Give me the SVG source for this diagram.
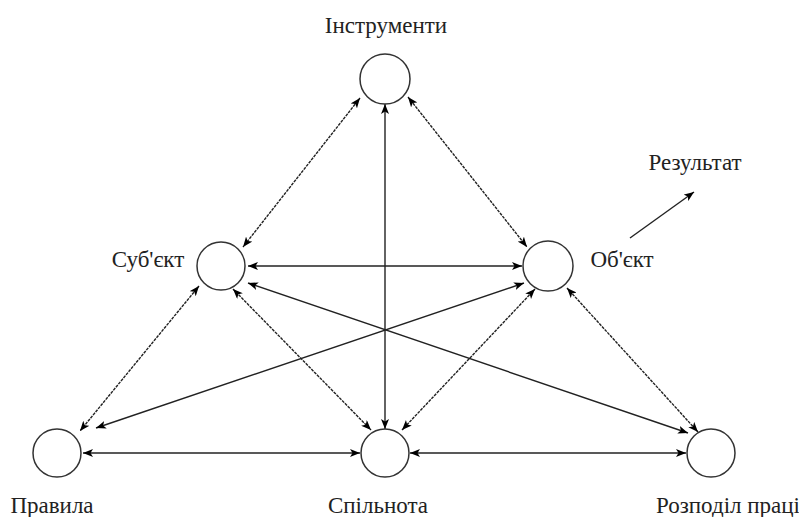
<svg xmlns="http://www.w3.org/2000/svg" width="799" height="517" viewBox="0 0 799 517">
<defs>
<marker id="ah" viewBox="0 0 10 8" refX="10" refY="4" markerWidth="10" markerHeight="8" markerUnits="userSpaceOnUse" orient="auto-start-reverse">
<path d="M0,0 L10,4 L0,8 L2.5,4 Z" fill="#000"/>
</marker>
</defs>
<style>
.n{fill:#fff;stroke:#333;stroke-width:1.5}
.t{font-family:'Liberation Serif','Times New Roman','DejaVu Serif',serif;font-size:23px;fill:#222}
.c line{stroke:#222;stroke-width:1.4;marker-start:url(#ah);marker-end:url(#ah)}
.d{stroke-dasharray:3 1}
</style>
<rect width="799" height="517" fill="#fff"/>
<g id="connectors" class="c">
<line x1="360" y1="98" x2="243" y2="247" class="d"/>
<line x1="408" y1="97" x2="527" y2="247" class="d"/>
<line x1="385" y1="104" x2="385" y2="429"/>
<line x1="248" y1="266" x2="522" y2="266"/>
<line x1="199" y1="286" x2="80" y2="431" class="d"/>
<line x1="233" y1="289" x2="371" y2="430" class="d"/>
<line x1="248" y1="283" x2="688" y2="433"/>
<line x1="524" y1="283" x2="96" y2="428"/>
<line x1="535" y1="289" x2="402" y2="430" class="d"/>
<line x1="567" y1="288" x2="698" y2="432" class="d"/>
<line x1="83" y1="453" x2="360" y2="453"/>
<line x1="410" y1="453" x2="686" y2="453"/>
<line x1="630" y1="238" x2="694" y2="192" style="marker-start:none"/>
</g>
<g id="instrumenty"><circle class="n" cx="385" cy="79" r="25"/><text class="t" x="386" y="33" text-anchor="middle">Інструменти</text></g>
<g id="subiekt"><circle class="n" cx="221" cy="266" r="24"/><text class="t" x="148" y="267" text-anchor="middle">Суб'єкт</text></g>
<g id="obiekt"><circle class="n" cx="548" cy="266" r="25"/><text class="t" x="622" y="267" text-anchor="middle">Об'єкт</text></g>
<g id="pravyla"><circle class="n" cx="57" cy="453" r="24"/><text class="t" x="52" y="513" text-anchor="middle">Правила</text></g>
<g id="spilnota"><circle class="n" cx="385" cy="453" r="24"/><text class="t" x="378" y="513" text-anchor="middle">Спільнота</text></g>
<g id="rozpodil"><circle class="n" cx="711" cy="453" r="24"/><text class="t" x="728" y="513" text-anchor="middle">Розподіл праці</text></g>
<g id="rezultat"><text class="t" x="695" y="170" text-anchor="middle">Результат</text></g>
</svg>
